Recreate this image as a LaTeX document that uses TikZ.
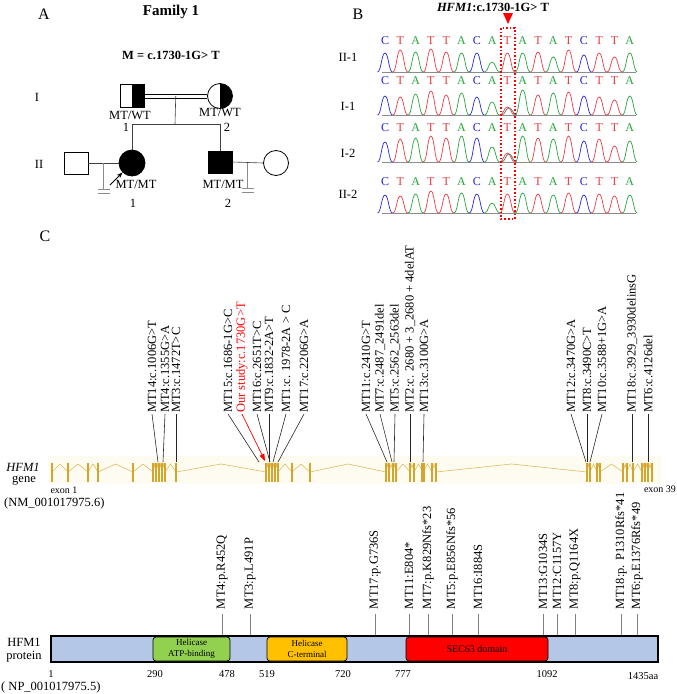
\documentclass[tikz,border=0pt]{standalone}
\usepackage{fontspec}
\setmainfont{Liberation Serif}
\usetikzlibrary{positioning,arrows.meta,calc}
\definecolor{baseC}{RGB}{40,40,220}
\definecolor{baseT}{RGB}{235,60,70}
\definecolor{baseA}{RGB}{40,165,60}
\definecolor{genegold}{RGB}{212,165,40}
\definecolor{intronline}{RGB}{222,190,100}
\definecolor{geneband}{RGB}{254,251,240}
\definecolor{protblue}{RGB}{180,199,231}
\definecolor{atpgreen}{RGB}{146,208,80}
\definecolor{ctorange}{RGB}{255,192,0}
\newcommand{\pfont}[1]{\fontsize{#1}{#1}\selectfont}
\tikzset{
  txt/.style={font=\pfont{12.5},inner sep=1pt},
  panel/.style={font=\pfont{16},inner sep=0pt},
  indiv/.style={draw,line width=0.8pt,inner sep=0pt},
  halfright/.style={path picture={\fill[black] (path picture bounding box.north) rectangle (path picture bounding box.south east);}},
  pedline/.style={line width=0.6pt,black!75},
  pedgray/.style={line width=0.6pt,black!45},
  rowlab/.style={font=\pfont{12.5},inner sep=0pt},
  baselab/.style={font=\pfont{12},inner sep=0pt},
  chromaxis/.style={line width=0.7pt,black!45},
  glab/.style={font=\pfont{12.5},rotate=90,anchor=west,inner sep=1pt},
  plab/.style={font=\pfont{12.5},rotate=90,anchor=west,inner sep=1pt,outer sep=4pt},
  lead/.style={line width=0.6pt,black!85},
  plead/.style={line width=0.5pt,black!50},
  exon/.style={genegold,line width=1.6pt},
  intron/.style={intronline,line width=0.6pt},
  domainbox/.style={draw,line width=0.7pt,rounded corners=3pt,minimum height=24pt,inner sep=0pt,align=center},
  aanum/.style={font=\pfont{10.5},inner sep=0pt}
}
\newcommand{\chrompeak}[4]{\draw[#4,line width=0.7pt] (#1-7.5,#2) .. controls (#1-3.8,#2) and (#1-3.5,#2-#3) .. (#1,#2-#3) .. controls (#1+3.5,#2-#3) and (#1+3.8,#2) .. (#1+7.5,#2);}
\newcommand{\chromrow}[6]{%
  \node[rowlab] (#1) at (348,#3) {#2};
  \draw[chromaxis] (382,#5) -- (636,#5);
  \foreach \b/\h [count=\i from 0] in {#6} {
    \pgfmathsetmacro{\xx}{385+15.3*\i}
    \node[baselab,text=base\b] (#1b\i) at (\xx,#4) {\b};
    \chrompeak{\xx}{#5}{\h}{base\b}
  }}

\begin{document}
\begin{tikzpicture}[x=1pt,y=-1pt]
\useasboundingbox[fill=white] (0,0) rectangle (677,694);
% Panel A: pedigree
\node[panel] (pA) at (44,14) {A};
\node[txt,font=\pfont{15}\bfseries] (fam) at (171,12) {Family 1};
\node[txt,font=\pfont{12.5}\bfseries] (mut) at (171,55) {M = c.1730-1G> T};
\node[txt] (genI) at (37,97) {I};
\node[txt] (genII) at (39,164) {II};
\node[indiv,rectangle,minimum width=24pt,minimum height=23pt,halfright] (I1) at (132,96) {};
\node[indiv,circle,minimum size=25pt,halfright] (I2) at (220,96) {};
\node[indiv,rectangle,minimum width=24pt,minimum height=22pt] (sp1) at (76,163) {};
\node[indiv,circle,minimum size=26pt,fill=black] (II1) at (132,163) {};
\node[indiv,rectangle,minimum width=24pt,minimum height=22pt,fill=black] (II2) at (220,162) {};
\node[indiv,circle,minimum size=25pt] (sp2) at (276,163) {};
% matings and sibship
\draw[line width=0.6pt] ([yshift=2pt]I1.east) -- ([yshift=2pt]I2.west);
\draw[line width=0.6pt] ([yshift=-2pt]I1.east) -- ([yshift=-2pt]I2.west);
\coordinate (sib) at (175,124);
\draw[pedline] ($(I1.east)!.5!(I2.west)$) -- (sib);
\draw[pedline] (II1.north |- sib) -- (II2.north |- sib);
\draw[pedline] (II1.north |- sib) -- (II1.north);
\draw[pedline] (II2.north |- sib) -- (II2.north);
\draw[pedline] (sp1.east) -- (II1.west);
\draw[pedline] (II2.east) -- (sp2.west);
% no children
\coordinate (nf1) at ($(sp1.east)!.5!(II1.west)$);
\coordinate (nf2) at ($(II2.east)!.5!(sp2.west)$);
\foreach \m in {nf1,nf2} {
  \draw[pedgray] (\m) -- ++(0,26);
  \draw[pedgray] ($(\m)+(-6,26)$) -- ++(12,0);
  \draw[pedgray] ($(\m)+(-6,30)$) -- ++(12,0);
}
% proband
\coordinate (pbtail) at (110,185);
\draw[-{Stealth[length=6pt,width=4.5pt]},line width=0.8pt] (pbtail) -- (II1.south west);
\node[txt] (gI1) at (130,115) {MT/WT};
\node[txt] (nI1) at (126,127) {1};
\node[txt] (gI2) at (220,112) {MT/WT};
\node[txt] (nI2) at (227,127) {2};
\node[txt] (gII1) at (136,184) {MT/MT};
\node[txt] (nII1) at (133,203) {1};
\node[txt] (gII2) at (223,184) {MT/MT};
\node[txt] (nII2) at (228,203) {2};
% Panel B: chromatograms
\node[panel] (pB) at (358,14) {B};
\node[txt,font=\pfont{12.5}\bfseries] (btitle) at (493,7) {\textit{HFM1}:c.1730-1G> T};
\chromrow{r1}{II-1}{57}{41}{72}{C/19,T/22,A/20,T/23,T/20,A/19,C/19,A/10,T/19,A/19,T/20,A/15,T/22,C/17,T/19,T/15,A/19}
\chromrow{r2}{I-1}{106}{81}{115}{C/19,T/18,A/21,T/24,T/20,A/22,C/18,A/13,T/8,A/25,T/20,A/22,T/23,C/19,T/18,T/15,A/19}
\chromrow{r3}{I-2}{153}{128}{162}{C/20,T/23,A/24,T/26,T/24,A/26,C/24,A/15,T/9,A/26,T/24,A/23,T/26,C/21,T/23,T/16,A/21}
\chromrow{r4}{II-2}{194}{182}{213}{C/18,T/17,A/19,T/22,T/19,A/20,C/19,A/10,T/19,A/20,T/19,A/18,T/20,C/18,T/19,T/17,A/18}
\chrompeak{509}{115}{7}{black!60}
\chrompeak{509}{162}{8}{black!60}
\fill[red] (503,13) -- (513,13) -- (508,24) -- cycle;
\draw[red,dotted,line width=1.6pt] (501,28) rectangle (515,219);
% Panel C: gene
\node[panel] (pC) at (45,236) {C};
\fill[geneband] (48,456) rectangle (662,484);
\foreach \x [remember=\x as \lastx (initially 52)] in {68,88,98,133,153,156,159,162,165,176,266,269,272,275,278,292,310,386,389,393,396,410,414,423,432,436,587,590,597,600,623,627,633,642,645,648,652}
  \draw[intron] (\lastx,472) -- ({(\lastx+\x)/2},464) -- (\x,472);
\foreach \x in {52,68,88,98,133,153,156,159,162,165,176,266,269,272,275,278,292,310,386,389,393,396,410,414,432,436,587,590,597,600,623,627,633,642,645,648,652}
  \draw[exon] (\x,463) -- (\x,482);
\draw[exon,line width=3.5pt] (423,463) -- (423,482);
\node[txt,font=\pfont{12.5}\itshape] (hfmg) at (23,467) {HFM1};
\node[txt] (geneword) at (24,481) {gene};
\node[txt,font=\pfont{10}] (ex1) at (64,490) {exon 1};
\node[txt,font=\pfont{10}] (ex39) at (660,489) {exon 39};
\node[txt,anchor=west] (nm) at (3,503) {(NM\_001017975.6)};
\foreach \n/\xl/\xg/\t in {
  MT14/152/158/{MT14:c.1006G>T}, MT4/165/163/{MT4:c.1355G>A}, MT3/176/176/{MT3:c.1472T>C},
  MT15/228/259/{MT15:c.1686-1G>C}, MT16/257/270/{MT16:c.2651T>C}, MT9/269/269/{MT9:c.1832-2A>T},
  MT1/286/273/{MT1:c. 1978-2A > C}, MT17/304/278/{MT17:c.2206G>A},
  MT11/366/387/{MT11:c.2410G>T}, MT7/380/392/{MT7:c.2487\_2491del}, MT5/395/394/{MT5:c.2562\_2563del},
  MT2/410/410/{MT2:c. 2680 + 3\_2680 + 4delAT}, MT13/424/423/{MT13:c.3100G>A},
  MT12/571/586/{MT12:c.3470G>A}, MT8/587/587/{MT8:c.3490C>T}, MT10/602/590/{MT10:c.3588+1G>A},
  MT18/632/632/{MT18:c.3929\_3930delinsG}, MT6/648/648/{MT6:c.4126del}} {
  \node[glab] (g\n) at (\xl,414) {\t};
  \coordinate (h\n) at (\xg,462);
  \draw[lead] (g\n.west) -- (h\n);
}
\node[glab,text=red] (gour) at (242,414) {Our study:c.1730G>T};
\coordinate (hour) at (265,461);
\draw[red,line width=0.7pt,-{Triangle[length=7pt,width=5pt]}] (gour.west) -- (hour);
% Panel C: protein
\node[draw,line width=1.2pt,fill=protblue,minimum width=607pt,minimum height=26pt,inner sep=0pt] (prot) at (354.5,649) {};
\node[domainbox,fill=atpgreen,minimum width=77pt,font=\fontsize{9}{10.5}\selectfont] (atp) at (191.5,649) {Helicase\\ATP-binding};
\node[domainbox,fill=ctorange,minimum width=80pt,font=\fontsize{9}{10.5}\selectfont] (cterm) at (307,649) {Helicase\\C-terminal};
\node[domainbox,fill=red,minimum width=142pt,font=\pfont{10}] (sec) at (477,649) {SEC63 domain};
\foreach \n/\x/\t in {
  MT4/222/{MT4:p.R452Q}, MT3/250/{MT3:p.L491P}, MT17/375/{MT17:p.G736S}, MT11/409/{MT11:E804*},
  MT7/428/{MT7:p.K829Nfs*23}, MT5/452/{MT5:p.E856Nfs*56}, MT16/478/{MT16:I884S},
  MT13/543/{MT13:G1034S}, MT12/557/{MT12:C1157Y}, MT8/575/{MT8:p.Q1164X},
  MT18/621/{MT18:p. P1310Rfs*41}, MT6/637/{MT6:p.E1376Rfs*49}} {
  \node[plab] (p\n) at (\x,614) {\t};
  \draw[plead] (p\n.west) -- (p\n.west |- prot.north);
}
\node[txt] (hfmp) at (24,642) {HFM1};
\node[txt] (protword) at (24,657) {protein};
\foreach \n/\x in {1/51,290/155,478/227,519/267,720/343,777/403,1092/547}
  \node[aanum] (aa\n) at (\x,674) {\n};
\node[aanum] (aaend) at (643,676) {1435aa};
\node[txt,anchor=west] (np) at (0,687) {( NP\_001017975.5)};
\end{tikzpicture}
\end{document}
